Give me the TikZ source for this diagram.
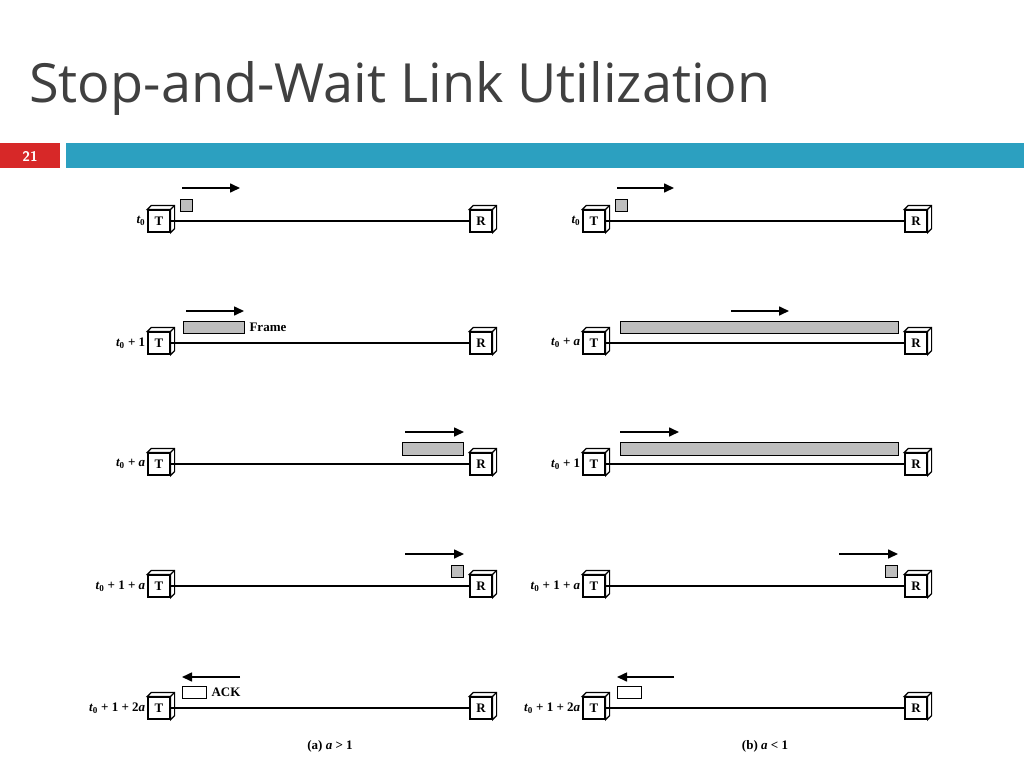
\documentclass[tikz,border=0pt]{standalone}
\usepackage{fontspec}
\setmainfont{Liberation Serif}
\newfontfamily\titlefont{Open Sans}
\definecolor{barblue}{RGB}{44,160,192}
\definecolor{numred}{RGB}{215,40,40}
\definecolor{pktgray}{RGB}{190,190,190}
\tikzset{
  box/.style={draw,line width=1.2pt,fill=white,minimum size=22pt,inner sep=0pt,font=\bfseries\fontsize{13}{15}\selectfont},
  link/.style={line width=2.2pt},
  mv/.style={line width=1.6pt,-{Triangle[length=10pt,width=9pt]}},
  pkt/.style={draw,line width=0.8pt,fill=pktgray},
  ack/.style={draw,line width=0.8pt,fill=white},
  lbl/.style={anchor=east,inner sep=2pt,font=\bfseries\fontsize{13}{15}\selectfont},
  txt/.style={font=\bfseries\fontsize{13}{15}\selectfont}
}
\usetikzlibrary{arrows.meta}
% station cube: name, x, y, letter
\newcommand{\station}[4]{
  \node[box] (#1) at (#2,#3) {#4};
  \draw[line width=1.2pt,fill=white] (#1.north west) -- ++(4,-4) -- ([shift={(4,-4)}]#1.north east) -- ([shift={(4,-4)}]#1.south east) -- (#1.south east) -- (#1.north east) -- cycle;
  \draw[line width=1.2pt] (#1.north east) -- ++(4,-4);
}
\newcommand{\tm}[1]{{\itshape t}\textsubscript{0}#1}
\begin{document}
\begin{tikzpicture}[x=1pt,y=-1pt]
\useasboundingbox (0,0) rectangle (1024,768);
%Title
\node[anchor=base west,inner sep=0pt,font=\titlefont\fontsize{54}{60}\selectfont,text=black!75] (title) at (29,102) {Stop-and-Wait Link Utilization};
\fill[numred] (0,143) rectangle (60,168);
\node[font=\sffamily\bfseries\fontsize{14}{16}\selectfont,text=white] (num) at (30,156) {21};
\fill[barblue] (66,143) rectangle (1024,168);

%Stations and links
\foreach \r/\y in {1/221,2/343,3/464,4/586,5/708}{
  \station{tl\r}{159}{\y}{T}
  \station{rl\r}{481}{\y}{R}
  \draw[link] (tl\r.east) -- (rl\r.west);
  \station{tr\r}{594}{\y}{T}
  \station{rr\r}{916}{\y}{R}
  \draw[link] (tr\r.east) -- (rr\r.west);
}

%Time labels
\node[lbl] (la1) at (tl1.west) {\tm{}};
\node[lbl] (la2) at (tl2.west) {\tm{ + 1}};
\node[lbl] (la3) at (tl3.west) {\tm{ + \itshape a}};
\node[lbl] (la4) at (tl4.west) {\tm{ + 1 + \itshape a}};
\node[lbl] (la5) at (tl5.west) {\tm{ + 1 + 2\itshape a}};
\node[lbl] (lb1) at (tr1.west) {\tm{}};
\node[lbl] (lb2) at (tr2.west) {\tm{ + \itshape a}};
\node[lbl] (lb3) at (tr3.west) {\tm{ + 1}};
\node[lbl] (lb4) at (tr4.west) {\tm{ + 1 + \itshape a}};
\node[lbl] (lb5) at (tr5.west) {\tm{ + 1 + 2\itshape a}};

%Frames, case a > 1
\draw[pkt] (180,199) rectangle (192,211);
\draw[mv] (182,188) -- (240,188);
\draw[pkt] (183,321) rectangle (244,333);
\node[anchor=west,txt] (frame) at (246,327) {Frame};
\draw[mv] (186,311) -- (244,311);
\draw[pkt] (402,442) rectangle (463,455);
\draw[mv] (405,432) -- (464,432);
\draw[pkt] (451,565) rectangle (463,577);
\draw[mv] (405,554) -- (464,554);
\draw[ack] (182,686) rectangle (206,698);
\node[anchor=west,txt] (ackl) at (208,692) {ACK};
\draw[mv] (240,677) -- (182,677);

%Frames, case a < 1
\draw[pkt] (615,199) rectangle (627,211);
\draw[mv] (617,188) -- (674,188);
\draw[pkt] (620,321) rectangle (898,333);
\draw[mv] (731,311) -- (789,311);
\draw[pkt] (620,442) rectangle (898,455);
\draw[mv] (620,432) -- (679,432);
\draw[pkt] (885,565) rectangle (897,577);
\draw[mv] (839,554) -- (898,554);
\draw[ack] (617,686) rectangle (641,698);
\draw[mv] (674,677) -- (617,677);

%Captions
\node[txt] (capa) at (330,746) {(a) \itshape a\upshape\ > 1};
\node[txt] (capb) at (765,746) {(b) \itshape a\upshape\ < 1};
\end{tikzpicture}
\end{document}
